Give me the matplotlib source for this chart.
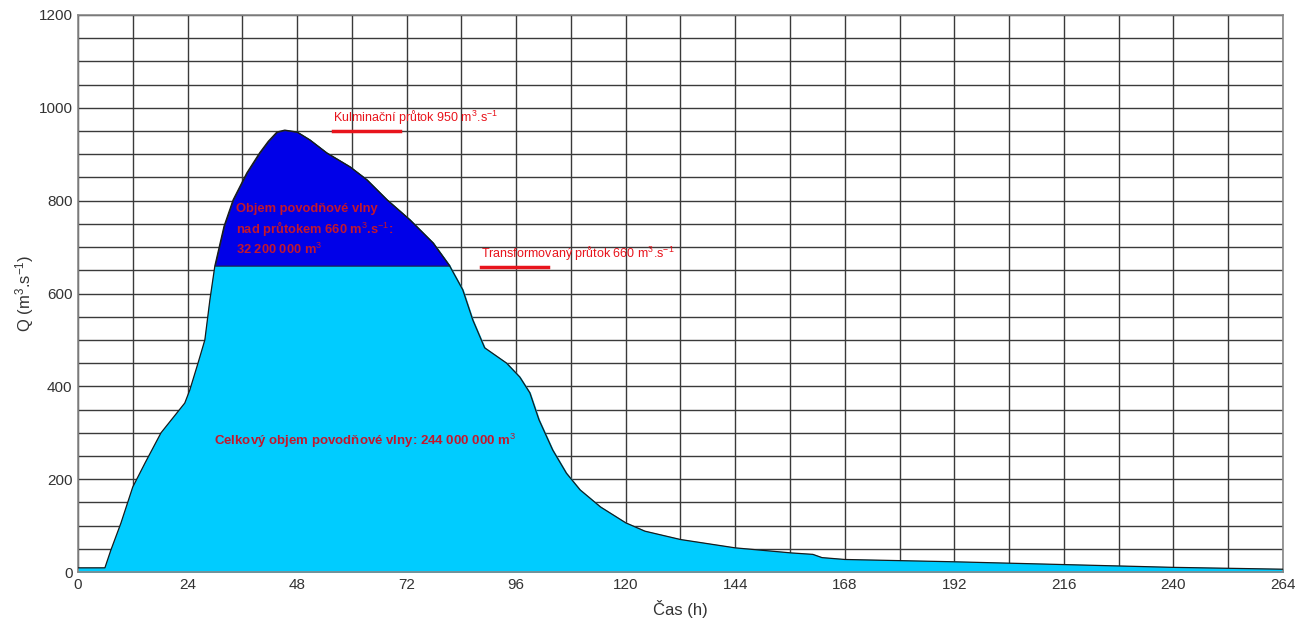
import matplotlib
matplotlib.use("Agg")
import matplotlib.pyplot as plt
import numpy as np

plt.rcParams['font.family'] = ['Liberation Sans', 'DejaVu Sans']
plt.rcParams['mathtext.fontset'] = 'custom'
plt.rcParams['mathtext.rm'] = 'Liberation Sans'
plt.rcParams['mathtext.it'] = 'Liberation Sans:italic'
plt.rcParams['mathtext.bf'] = 'Liberation Sans:bold'

# hydrograph
hours = [0, 3, 5.9, 7.2, 9.4, 12, 14.7, 18.2, 23.4, 24.5, 26.3, 27.8, 28.9, 30,
         32, 34, 37, 39.8, 41.7, 43.6, 45.3, 48, 50.8, 54.5, 59.6, 63.3, 67.7,
         72.7, 77.8, 81.4, 84.3, 86.5, 89.1, 93.9, 96.8, 99, 101, 104, 107, 110,
         114.5, 120, 124.2, 132, 144, 156.4, 161, 163, 168, 192, 216, 240, 264]
flow = [9, 9, 9, 47, 105, 183, 235, 300, 364, 392, 450, 500, 586, 660,
        745, 802, 860, 903, 928, 948, 952, 948, 931, 903, 873, 845, 802,
        759, 709, 660, 608, 543, 483, 450, 420, 386, 328, 263, 213, 177,
        140, 106, 88, 70, 52, 41, 38, 31, 27, 22, 16, 10, 6]
q_transform = 660
q_peak = 950

x_ticks = list(range(0, 265, 24))
y_ticks = list(range(0, 1201, 200))

red = '#e8141c'
dark_red = '#c4172c'

fig = plt.figure(figsize=(12.95, 6.25), dpi=100)
ax = fig.add_axes([0.0602, 0.0848, 0.9305, 0.8912])

t = np.array(hours)
q = np.array(flow)
ax.fill_between(t, 0, q, color='#00ccff', zorder=2)
ax.fill_between(t, q_transform, q, where=q >= q_transform, interpolate=True,
                color='#0000e8', edgecolor='#202040', linewidth=0.8, zorder=3)
ax.plot(t, q, color='#1a1a1a', linewidth=0.9, zorder=4)

ax.set_xlim(0, 264)
ax.set_ylim(0, 1200)
ax.set_xticks(x_ticks)
ax.set_yticks(y_ticks)
ax.set_xticks(range(0, 265, 12), minor=True)
ax.set_yticks(range(0, 1201, 50), minor=True)
ax.grid(True, which='both', color='#3a3a3a', linewidth=1.0, zorder=1)
ax.set_axisbelow(True)
ax.tick_params(which='both', length=0, labelsize=11, colors='#333333', pad=4)
for s in ax.spines.values():
    s.set_color('#888888')
    s.set_linewidth(1.2)

ax.set_xlabel('Čas (h)', fontsize=12, color='#333333', labelpad=6)
ax.set_ylabel('Q (m$^3$.s$^{-1}$)', fontsize=12, color='#333333', labelpad=2)

# annotations
ax.text(55.8, 958, 'Kulminační průtok 950 m$^3$.s$^{-1}$', fontsize=9, color=red,
        va='bottom', ha='left', zorder=6)
ax.plot([55.8, 70.5], [q_peak, q_peak], color=red, linewidth=2.5, zorder=6)
ax.text(88.2, 665, 'Transformovaný průtok 660 m$^3$.s$^{-1}$', fontsize=9, color=red,
        va='bottom', ha='left', zorder=6)
ax.plot([88.2, 102.9], [657, 657], color=red, linewidth=2.5, zorder=6)
ax.text(34.7, 737, 'Objem povodňové vlny\nnad průtokem 660 m$^3$.s$^{-1}$:\n32 200 000 m$^3$',
        fontsize=9.3, color=dark_red, fontweight='bold', va='center', ha='left',
        linespacing=1.3, zorder=6)
ax.text(29.8, 282, 'Celkový objem povodňové vlny: 244 000 000 m$^3$', fontsize=9.5,
        color=dark_red, fontweight='bold', va='center', ha='left', zorder=6)

fig.savefig('out.png', dpi=100)
